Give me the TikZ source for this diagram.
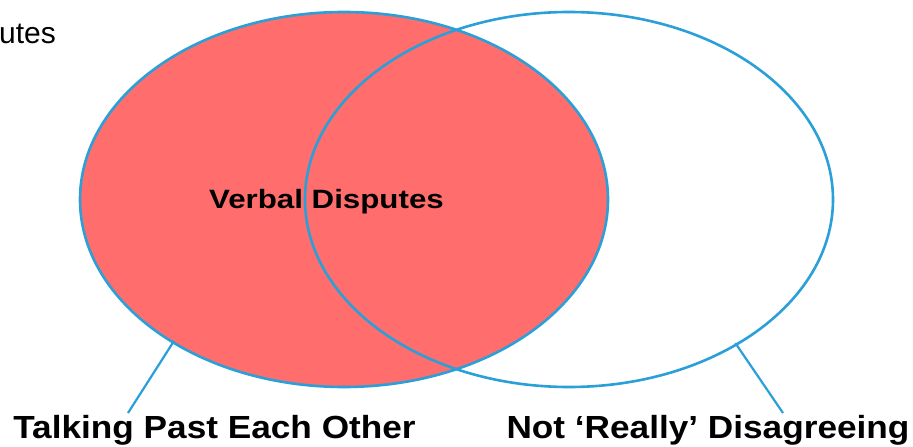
\documentclass[tikz,border=0pt]{standalone}
\usepackage{fontspec}
\setmainfont{Liberation Sans}
\usetikzlibrary{shapes.geometric,calc}
\definecolor{setline}{HTML}{2A9FD8}
\definecolor{setfill}{HTML}{FF6D6D}
\begin{document}
\begin{tikzpicture}[x=1pt,y=-1pt,
   set/.style={draw=setline, line width=2.6pt, ellipse, inner sep=0pt,
               minimum width=528pt, minimum height=375pt},
   setlabel/.style={font=\bfseries\fontsize{32}{36}\selectfont, anchor=base,
                    inner sep=0pt, xscale=1.1},
   pointer/.style={draw=setline, line width=2.2pt, shorten <=-3pt}]

\useasboundingbox (0,0) rectangle (913,447);

% the two sets
\node[set, fill=setfill] (talk) at (344,199.5) {};
\node[set] (notreally) at (569,199.5) {};

% texts
\node[anchor=base west, inner sep=0pt, font=\fontsize{30}{34}\selectfont]
      (title) at (-1,43) {utes};
\node[anchor=base, inner sep=0pt, font=\bfseries\fontsize{26.5}{30}\selectfont,
      xscale=1.18] (verbal) at (326.5,208.5) {Verbal Disputes};
\node[setlabel] (talklabel) at (214.5,438) {Talking Past Each Other};
\node[setlabel] (notlabel) at (708,438) {Not ‘Really’ Disagreeing};

% pointers from the labels to the sets
\coordinate (talkend) at (128,413);
\coordinate (notend) at (783,413);
\draw[pointer] (talk.220) -- (talkend);
\draw[pointer] (notreally.319.6) -- (notend);

\end{tikzpicture}
\end{document}
